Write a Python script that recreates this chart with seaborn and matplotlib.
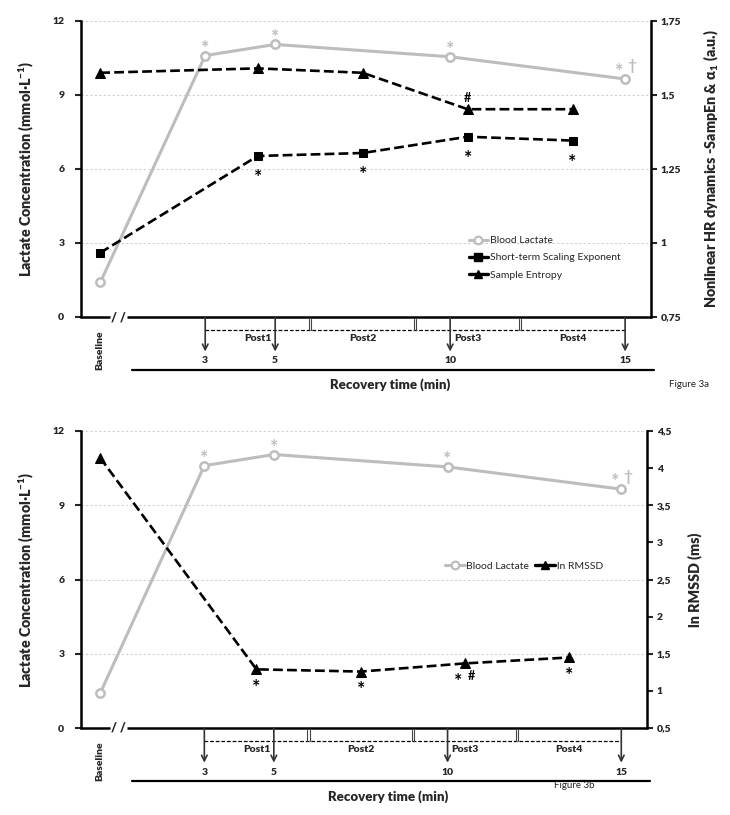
import matplotlib
matplotlib.use("Agg")
import matplotlib.pyplot as plt
import seaborn as sns
from matplotlib.lines import Line2D

# ---------------- data ----------------
lactate_time = [0, 3, 5, 10, 15]
lactate = [1.4, 10.6, 11.05, 10.55, 9.65]
lactate_marks = ["", "*", "*", "*", "*\u2020"]

hrv_time = [0, 4.5, 7.5, 10.5, 13.5]
sampen = [1.575, 1.59, 1.575, 1.452, 1.452]
sampen_marks = ["", "", "", "#", ""]
alpha1 = [0.967, 1.294, 1.304, 1.359, 1.346]
alpha1_marks = ["", "*", "*", "*", "*"]
ln_rmssd = [4.14, 1.29, 1.26, 1.37, 1.45]
rmssd_marks = ["", "*", "*", "*#", "*"]

left_ticks = [0, 3, 6, 9, 12]
right_ticks_a = [0.75, 1.0, 1.25, 1.5, 1.75]
right_ticks_b = [0.5, 1.0, 1.5, 2.0, 2.5, 3.0, 3.5, 4.0, 4.5]

arrow_minutes = [3, 5, 10, 15]
period_labels = ["Post1", "Post2", "Post3", "Post4"]
period_centers = [4.5, 7.5, 10.5, 13.5]
period_bounds = [6, 9, 12]

# ---------------- style ----------------
sns.set_style("white")
plt.rcParams["font.family"] = ["Lato", "DejaVu Sans"]
plt.rcParams["mathtext.default"] = "regular"

GREY = "#bdbdbd"
XLIM = (-0.55, 15.74)
HEAVY = 800

fig = plt.figure(figsize=(7.3, 8.15), dpi=100)
W, H = 730, 815


def comma(v):
    return f"{v:g}".replace(".", ",")


def put_star(ax, xy, dx, glyph_center_dy, color, size=14):
    base = glyph_center_dy - 0.58 * size * 100 / 72
    ax.annotate("*", xy, xytext=(dx, base), textcoords="offset pixels",
                ha="center", va="baseline", color=color, fontsize=size,
                fontweight="bold")


def put_sym(ax, xy, sym, dx, glyph_center_dy, color, size=9):
    base = glyph_center_dy - 0.36 * size * 100 / 72
    ax.annotate(sym, xy, xytext=(dx, base), textcoords="offset pixels",
                ha="center", va="baseline", color=color, fontsize=size,
                fontweight="bold")


def draw_marks(ax, xs, ys, marks, dy, color):
    for xv, yv, m in zip(xs, ys, marks):
        if not m:
            continue
        if m == "*":
            put_star(ax, (xv, yv), 0, dy, color)
        elif m == "#":
            put_sym(ax, (xv, yv), "#", 0, dy, color)
        elif m == "*#":
            put_star(ax, (xv, yv), -7, dy, color)
            put_sym(ax, (xv, yv), "#", 7, dy, color)
        elif m == "*\u2020":
            put_star(ax, (xv, yv), -6, dy, color)
            put_sym(ax, (xv, yv), "\u2020", 7, dy + 1, color, size=11)


def make_panel(rect_px, right_ticks, right_lim, right_label, right_label_x,
               hrv_series, fig_label, fig_label_pos):
    l, t, r, b = rect_px
    ax = fig.add_axes([l / W, (H - b) / H, (r - l) / W, (b - t) / H])
    ax2 = ax.twinx()

    # lactate (left axis)
    sns.lineplot(x=lactate_time, y=lactate, ax=ax, color=GREY, lw=2.2,
                 marker="o", markersize=6, markerfacecolor="white",
                 markeredgecolor=GREY, markeredgewidth=1.8, zorder=3)
    draw_marks(ax, lactate_time, lactate, lactate_marks, 13, GREY)

    # HRV series (right axis)
    for vals, marker, msize, marks, dy in hrv_series:
        sns.lineplot(x=hrv_time, y=vals, ax=ax2, color="black", lw=1.9,
                     linestyle="--", marker=marker, markersize=msize,
                     markeredgecolor="black", zorder=4)
        draw_marks(ax2, hrv_time, vals, marks, dy, "black")

    ax.set_xlim(*XLIM)
    ax.set_ylim(0, 12)
    ax2.set_ylim(*right_lim)
    ax.set_xticks([])
    ax2.set_xticks([])
    ax.set_yticks(left_ticks)
    ax.set_yticklabels([str(v) for v in left_ticks], fontweight=HEAVY)
    ax2.set_yticks(right_ticks)
    ax2.set_yticklabels([comma(v) for v in right_ticks], fontweight=HEAVY)
    ax.tick_params(axis="y", direction="out", length=4, width=1.5,
                   labelsize=7.5, pad=8, left=True)
    ax2.tick_params(axis="y", direction="out", length=4, width=1.5,
                    labelsize=7.5, pad=3, right=True)

    ax.grid(axis="y", color="#cfcfcf", lw=0.8, linestyle=(0, (2, 2)))
    ax.grid(axis="x", visible=False)
    ax2.grid(False)
    for sp in ["top", "right", "bottom"]:
        ax.spines[sp].set_visible(False)
    for sp in ["top", "left", "bottom"]:
        ax2.spines[sp].set_visible(False)
    ax.spines["left"].set_linewidth(1.8)
    ax.spines["left"].set_color("black")
    ax2.spines["right"].set_linewidth(1.8)
    ax2.spines["right"].set_color("black")

    ax.set_ylabel("Lactate Concentration (mmol\u00b7L$^{-1}$)", fontsize=10.3,
                  fontweight=HEAVY)
    ax.yaxis.set_label_coords(-0.079, 0.5)
    ax2.set_ylabel(right_label, fontsize=10.3, fontweight=HEAVY, rotation=90)
    ax2.yaxis.set_label_coords(right_label_x, 0.5)

    # x axis line with break
    kw = dict(color="black", lw=1.8, clip_on=False, solid_capstyle="butt")
    ax.plot([XLIM[0], 0.29], [0, 0], **kw)
    ax.plot([0.77, XLIM[1]], [0, 0], **kw)
    ax.text(0.53, 0, "/ /", ha="center", va="center", fontsize=9,
            fontweight=HEAVY, clip_on=False)

    # arrows to recovery minutes
    for mnt in arrow_minutes:
        ax.annotate("", xy=(mnt, -1.4), xytext=(mnt, 0),
                    arrowprops=dict(arrowstyle="->", lw=1.2, color="#333333",
                                    shrinkA=0, shrinkB=0, mutation_scale=10),
                    annotation_clip=False)
        ax.text(mnt, -1.78, str(mnt), ha="center", va="center", fontsize=7.5,
                fontweight=HEAVY, clip_on=False)

    # dashed bracket with period separators
    ax.plot([3, 15], [-0.53, -0.53], color="black", lw=0.9,
            linestyle=(0, (3, 1.5)), clip_on=False)
    for bd in period_bounds:
        for dx in (-0.035, 0.035):
            ax.plot([bd + dx, bd + dx], [-0.1, -0.53], color="#444444", lw=0.8,
                    clip_on=False)
    for lbl, cx in zip(period_labels, period_centers):
        ax.text(cx, -0.86, lbl, ha="center", va="center", fontsize=7.5,
                fontweight=HEAVY, clip_on=False)

    ax.text(0, -1.34, "Baseline", ha="center", va="center", rotation=90,
            fontsize=7.5, fontweight=HEAVY, clip_on=False)

    ax.plot([0.92, 15.82], [-2.15, -2.15], color="black", lw=1.6,
            clip_on=False)
    ax.text(8.28, -2.76, "Recovery time (min)", ha="center", va="center",
            fontsize=9.5, fontweight=HEAVY, clip_on=False)
    ax.text(fig_label_pos[0], fig_label_pos[1], fig_label, ha="center",
            va="center", fontsize=7, clip_on=False, color="#222222")
    return ax, ax2


# ---------------- top panel ----------------
ax_a, ax_a2 = make_panel(
    (81, 21, 651, 317), right_ticks_a, (0.75, 1.75),
    "Nonlinear HR dynamics -SampEn & \u03b1$_1$ (a.u.)", 1.09,
    [(alpha1, "s", 5.5, alpha1_marks, -16), (sampen, "^", 6.5, sampen_marks, 12)],
    "Figure 3a", (16.82, -2.74))

handles_a = [
    Line2D([], [], color=GREY, lw=2.2, marker="o", markersize=5.5,
           markerfacecolor="white", markeredgecolor=GREY, markeredgewidth=1.6),
    Line2D([], [], color="black", lw=2.4, marker="s", markersize=5.5),
    Line2D([], [], color="black", lw=2.4, marker="^", markersize=6),
]
ax_a2.legend(handles_a, ["Blood Lactate", "Short-term Scaling Exponent",
                         "Sample Entropy"],
             loc="center left", bbox_to_anchor=(0.68, 0.20), frameon=False,
             fontsize=7.5, handlelength=1.9, handletextpad=0.15,
             labelspacing=0.75, borderpad=0, borderaxespad=0)

# ---------------- bottom panel ----------------
ax_b, ax_b2 = make_panel(
    (81, 431, 647, 728), right_ticks_b, (0.5, 4.5),
    "ln RMSSD (ms)", 1.072,
    [(ln_rmssd, "^", 6.5, rmssd_marks, -12)],
    "Figure 3b", (13.64, -2.32))

handles_b = [
    Line2D([], [], color=GREY, lw=2.2, marker="o", markersize=5.5,
           markerfacecolor="white", markeredgecolor=GREY, markeredgewidth=1.6),
    Line2D([], [], color="black", lw=2.4, marker="^", markersize=6),
]
ax_b2.legend(handles_b, ["Blood Lactate", "ln RMSSD"], ncol=2,
             loc="center left", bbox_to_anchor=(0.643, 0.544), frameon=False,
             fontsize=7.5, handlelength=1.9, handletextpad=0.15,
             columnspacing=0.6, borderpad=0, borderaxespad=0)

fig.savefig("out.png", dpi=100, facecolor="white")
